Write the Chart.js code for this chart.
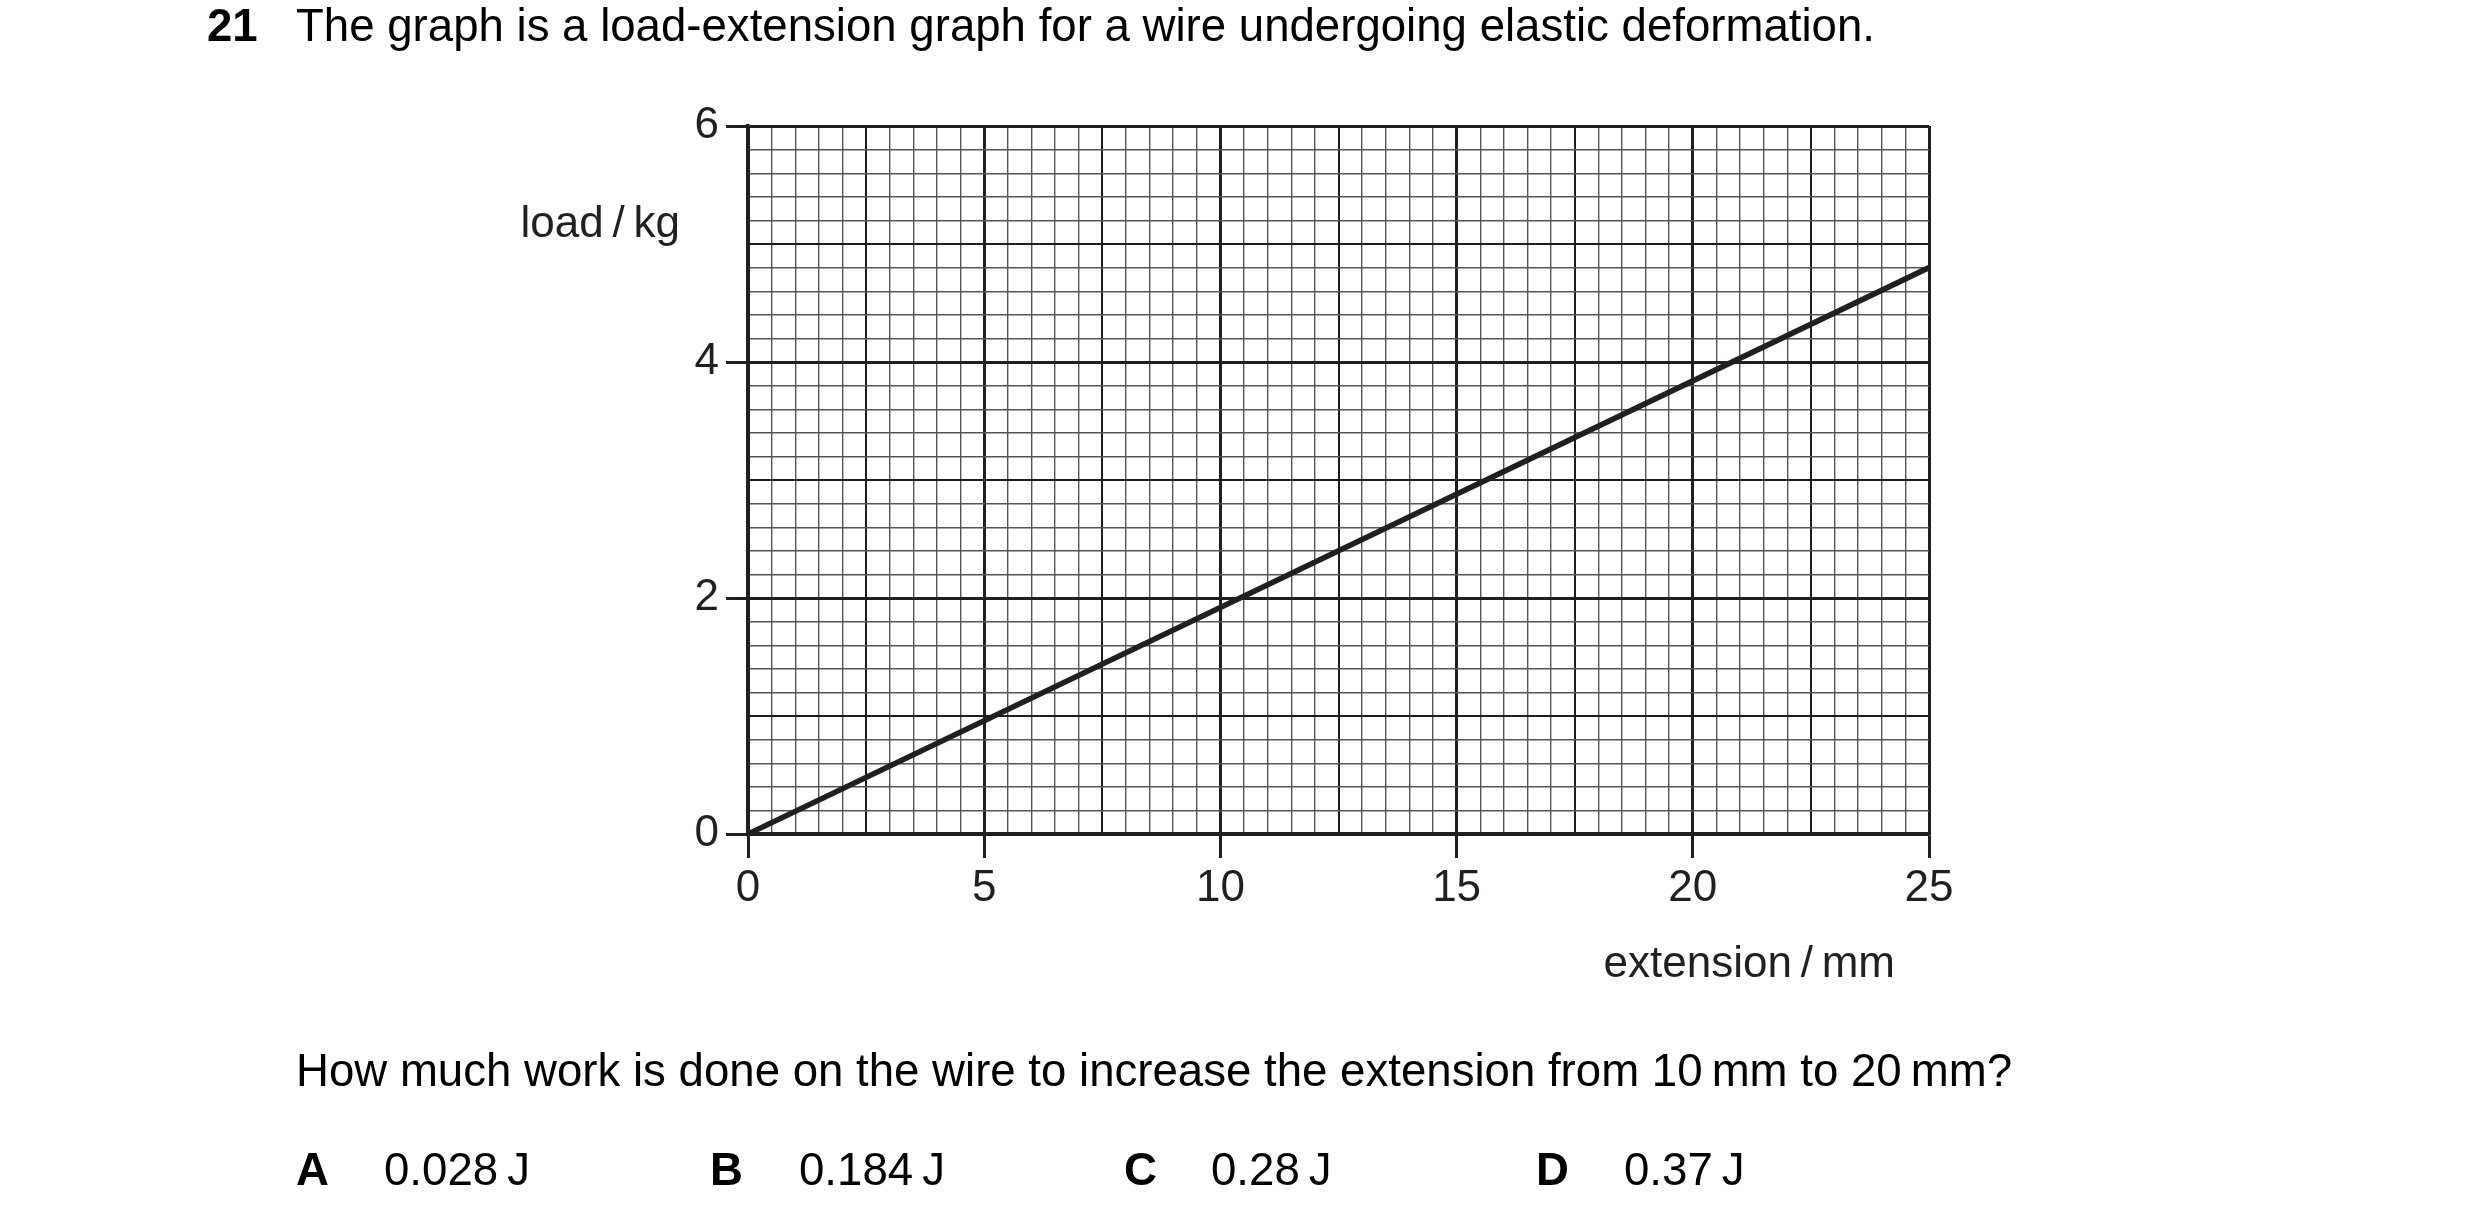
<!DOCTYPE html>
<html>
<head>
<meta charset="utf-8">
<title>load-extension graph</title>
<script src="https://cdn.jsdelivr.net/npm/chart.js@4.4.1/dist/chart.umd.min.js"></script>
<style>
  html, body { margin: 0; padding: 0; background: #fff; }
  body { width: 2480px; height: 1225px; position: relative; overflow: hidden;
         font-family: "Liberation Sans", Arial, sans-serif; font-size: 45.6px; color: #000; }
  #chart { position: absolute; left: 0; top: 0; }
  .t { position: absolute; line-height: 44px; white-space: nowrap; }
  .b { font-weight: bold; }
</style>
</head>
<body>
<canvas id="chart" width="2480" height="1225"></canvas>

<div class="t b" style="left:207px; top:4px;">21</div>
<div class="t" style="left:296px; top:4px;">The graph is a load-extension graph for a wire undergoing elastic deformation.</div>

<div class="t" style="left:296px; top:1049px;">How much work is done on the wire to increase the extension from 10&#8201;mm to 20&#8201;mm?</div>

<div class="t b" style="left:296px; top:1148px;">A</div>
<div class="t" style="left:384px; top:1148px;">0.028&#8201;J</div>
<div class="t b" style="left:710px; top:1148px;">B</div>
<div class="t" style="left:799px; top:1148px;">0.184&#8201;J</div>
<div class="t b" style="left:1124px; top:1148px;">C</div>
<div class="t" style="left:1211px; top:1148px;">0.28&#8201;J</div>
<div class="t b" style="left:1536px; top:1148px;">D</div>
<div class="t" style="left:1624px; top:1148px;">0.37&#8201;J</div>

<script>
// data
const extension = [0, 25];      // mm
const load = [0, 4.8];          // kg
const xTickLabels = [0, 5, 10, 15, 20, 25];
const yTickLabels = [0, 2, 4, 6];
const xTitle = 'extension\u2009/\u2009mm';
const yTitle = 'load\u2009/\u2009kg';

const ink = '#231f20';
const font = { family: '"Liberation Sans", Arial, sans-serif', size: 44 };

function isMultiple(v, step) {
    const r = v / step;
    return Math.abs(r - Math.round(r)) < 1e-6;
}

// graph paper: fine lines, medium every 2.5 mm / 1 kg, heavy on labelled values
function gridColor(v, major, mid) {
    if (isMultiple(v, major)) return ink;
    if (isMultiple(v, mid)) return '#1e1e1e';
    return '#555555';
}
function gridWidth(v, major, mid) {
    if (isMultiple(v, major)) return 3;
    if (isMultiple(v, mid)) return 2;
    return 1.4;
}

const axisTitles = {
    id: 'axisTitles',
    afterDraw(chart) {
        const { ctx, chartArea } = chart;
        ctx.save();
        ctx.fillStyle = ink;
        ctx.font = `${font.size}px ${font.family}`;
        ctx.textAlign = 'right';
        ctx.textBaseline = 'alphabetic';
        ctx.fillText(yTitle, chartArea.left - 68, chartArea.top + 111);
        ctx.fillText(xTitle, chartArea.right - 34, chartArea.bottom + 143);
        ctx.restore();
    }
};

new Chart(document.getElementById('chart'), {
    type: 'line',
    data: {
        datasets: [{
            data: extension.map((x, i) => ({ x, y: load[i] })),
            borderColor: ink,
            borderWidth: 5.5,
            pointRadius: 0,
            fill: false,
            tension: 0
        }]
    },
    options: {
        responsive: false,
        animation: false,
        events: [],
        layout: { padding: { left: 0, top: 126, right: 551, bottom: 291 } },
        plugins: { legend: { display: false }, tooltip: { enabled: false } },
        scales: {
            x: {
                type: 'linear',
                min: 0,
                max: 25,
                afterFit: s => { s.height = 100; },
                ticks: {
                    stepSize: 0.5,
                    autoSkip: false,
                    maxRotation: 0,
                    padding: 4,
                    color: ink,
                    font,
                    callback: v => xTickLabels.includes(v) ? String(v) : ''
                },
                grid: {
                    color: c => gridColor(c.tick.value, 5, 2.5),
                    lineWidth: c => gridWidth(c.tick.value, 5, 2.5),
                    tickLength: 24,
                    tickWidth: 3,
                    tickColor: c => xTickLabels.includes(c.tick.value) ? ink : 'rgba(0,0,0,0)'
                },
                border: { color: ink, width: 3.5 }
            },
            y: {
                type: 'linear',
                min: 0,
                max: 6,
                afterFit: s => { s.width = 748; },
                ticks: {
                    stepSize: 0.2,
                    autoSkip: false,
                    padding: 7,
                    color: ink,
                    font,
                    callback: v => yTickLabels.some(t => Math.abs(t - v) < 1e-6) ? String(Math.round(v)) : ''
                },
                grid: {
                    color: c => gridColor(c.tick.value, 2, 1),
                    lineWidth: c => gridWidth(c.tick.value, 2, 1),
                    tickLength: 22,
                    tickWidth: 3,
                    tickColor: c => yTickLabels.some(t => Math.abs(t - c.tick.value) < 1e-6) ? ink : 'rgba(0,0,0,0)'
                },
                border: { color: ink, width: 3.5 }
            }
        }
    },
    plugins: [axisTitles]
});
</script>
</body>
</html>
